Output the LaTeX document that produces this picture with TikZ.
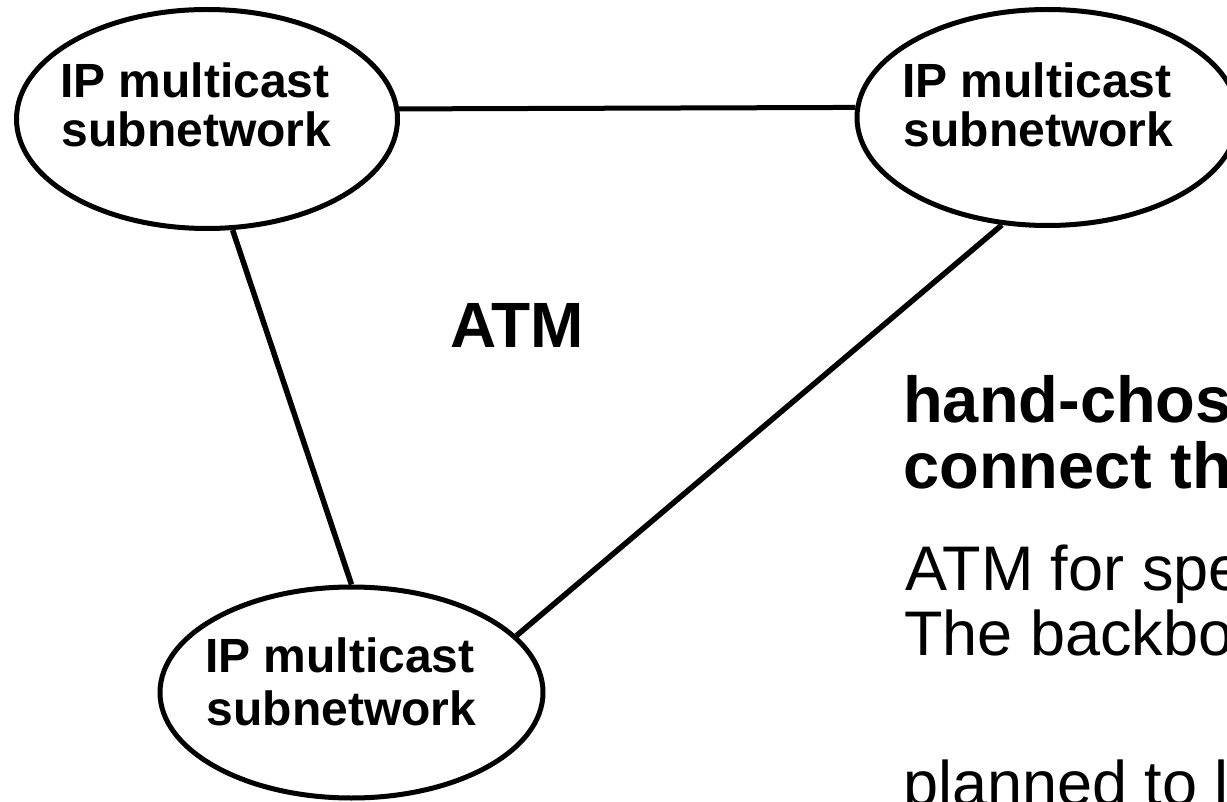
\documentclass[tikz,border=0pt]{standalone}
\usepackage{fontspec}
\setmainfont{Liberation Sans}
\usetikzlibrary{shapes.geometric}
\begin{document}
\begin{tikzpicture}[x=1pt,y=-1pt,
  subnet/.style={ellipse, draw, line width=5pt, inner sep=0pt},
  netlabel/.style={anchor=base west, inner sep=0pt, font=\fontsize{48}{50}\selectfont\bfseries},
  biglabel/.style={anchor=base west, inner sep=0pt, font=\fontsize{64}{70}\selectfont\bfseries},
  headline/.style={anchor=base west, inner sep=0pt, font=\fontsize{65}{65}\selectfont\bfseries},
  bodyline/.style={anchor=base west, inner sep=0pt, font=\fontsize{63}{65}\selectfont},
  thinlink/.style={line width=5pt},
  link/.style={line width=5.5pt}]
\useasboundingbox (0,0) rectangle (1227,802);
\fill[white] (0,0) rectangle (1227,802);
\clip (0,0) rectangle (1227,802);

% the three subnetworks
\node[subnet, minimum width=381pt, minimum height=219pt] (e1) at (207,119) {};
\node[subnet, minimum width=381pt, minimum height=216pt] (e2) at (1047.5,117.5) {};
\node[subnet, minimum width=383pt, minimum height=211pt] (e3) at (351.5,692.5) {};

\node[netlabel] (e1a) at (60,97.5) {IP multicast};
\node[netlabel] (e1b) at (61.5,147) {subnetwork};
\node[netlabel] (e2a) at (902,98) {IP multicast};
\node[netlabel] (e2b) at (903.5,147) {subnetwork};
\node[netlabel] (e3a) at (205,672.5) {IP multicast};
\node[netlabel] (e3b) at (206.5,725) {subnetwork};

% ATM links between them
\draw[thinlink] (e1.3.5) -- (e2.177);
\draw[link] (e1.-77) -- (e3.90);
\draw[link] (e2.-113.5) -- (e3.19.75);

\node[biglabel] (atm) at (450,348) {ATM};

% notes on the right
\node[headline] (h1) at (903,423) {hand-chosen};
\node[headline] (h2) at (903,488) {connect th};
\node[bodyline] (b1) at (905,590) {ATM for speed};
\node[bodyline] (b2) at (904,655) {The backbone};
\node[bodyline] (b3) at (903,805) {planned to l};
\end{tikzpicture}
\end{document}
